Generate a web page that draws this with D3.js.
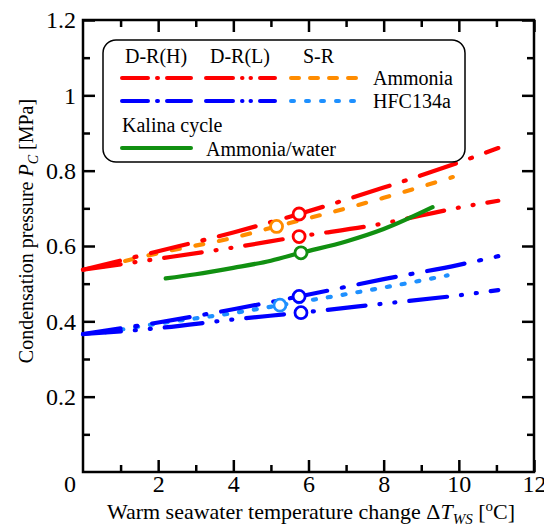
<!DOCTYPE html>
<meta charset="utf-8">
<html lang="en">
<head>
<script src="https://d3js.org/d3.v7.min.js"></script>
<style>
body { margin: 0; background: #fff; }
svg text { font-family: "Liberation Serif", "Times New Roman", serif; fill: #000; }
.frame { fill: none; stroke: #000; stroke-width: 2.5; }
.tick line { stroke: #000; stroke-width: 2.5; }
.tick text { font-size: 24px; }
.domain { display: none; }
</style>
</head>
<body>
<script>

// series data
var ammHX = [0, 2, 4, 5.75, 8, 10, 11.05];
var ammHY = [0.537, 0.586, 0.636, 0.685, 0.755, 0.822, 0.86];
var ammLX = [0, 2, 4, 5.75, 8, 9, 10, 11.05];
var ammLY = [0.537, 0.566, 0.596, 0.625, 0.66, 0.681, 0.702, 0.72];
var ammSX = [0.5, 2, 4, 5.15, 7, 8, 9.84];
var ammSY = [0.545, 0.581, 0.622, 0.652, 0.70, 0.728, 0.783];
var hfcHX = [0, 2, 4, 5.75, 8, 10, 11.05];
var hfcHY = [0.366, 0.397, 0.432, 0.466, 0.512, 0.55, 0.573];
var hfcLX = [0, 2, 4, 5.8, 8, 10, 11.05];
var hfcLY = [0.366, 0.382, 0.405, 0.423, 0.447, 0.469, 0.483];
var hfcSX = [0.6, 2, 4, 5.24, 7, 8.4, 9.7];
var hfcSY = [0.371, 0.394, 0.422, 0.443, 0.472, 0.497, 0.522];
var kalX = [2.2, 3, 4, 5, 5.8, 7, 8, 9.3];
var kalY = [0.514, 0.525, 0.542, 0.561, 0.582, 0.612, 0.645, 0.703];

// design points marked with circles
var markX = [5.75, 5.75, 5.15, 5.8, 5.75, 5.8, 5.24];
var markY = [0.685, 0.625, 0.652, 0.582, 0.466, 0.423, 0.443];
var markColor = ["#ff0000", "#ff0000", "#ff8c00", "#119011", "#0000ff", "#0000ff", "#1e90ff"];

// tick values
var xMajor = [2, 4, 6, 8, 10, 12];
var xMinor = [1, 3, 5, 7, 9, 11];
var yMajor = [0.2, 0.4, 0.6, 0.8, 1.0, 1.2];
var yMinor = [0.1, 0.3, 0.5, 0.7, 0.9, 1.1];

var series = [
  {x: ammSX, y: ammSY, color: "#ff8c00", dash: "8,16", legDash: "8,11"},
  {x: ammLX, y: ammLY, color: "#ff0000", dash: "38,14,1,14,1,14", legDash: "27,9,0.5,8,0.5,9"},
  {x: ammHX, y: ammHY, color: "#ff0000", dash: "38,15,2,15", legDash: "26,9,1,9"},
  {x: kalX, y: kalY, color: "#119011", dash: null, legDash: null},
  {x: hfcSX, y: hfcSY, color: "#1e90ff", dash: "3,12", legDash: "3,12"},
  {x: hfcLX, y: hfcLY, color: "#0000ff", dash: "38,14,1,14,1,14", legDash: "27,9,0.5,8,0.5,9"},
  {x: hfcHX, y: hfcHY, color: "#0000ff", dash: "38,15,2,15", legDash: "26,9,1,9"}
];

var width = 544, height = 527;
var pLeft = 83, pRight = 534, pTop = 20, pBottom = 472;

var svg = d3.select("body").append("svg")
    .attr("width", width)
    .attr("height", height);

var xScale = d3.scaleLinear().domain([0, 12]).range([pLeft, pRight]);
var yScale = d3.scaleLinear().domain([0, 1.2]).range([pBottom, pTop]);

var fmt = function(d) { return String(+d.toFixed(1)); };

// major ticks with labels, inward
svg.append("g")
    .attr("transform", "translate(0," + pBottom + ")")
    .call(d3.axisBottom(xScale).tickValues(xMajor).tickSize(-12).tickFormat(fmt))
    .call(function(g) { g.selectAll("text").attr("y", 3); });

svg.append("g")
    .attr("transform", "translate(" + pLeft + ",0)")
    .call(d3.axisLeft(yScale).tickValues(yMajor).tickSize(-12).tickFormat(fmt))
    .call(function(g) { g.selectAll("text").attr("x", -7); });

// mirrored ticks on top and right
svg.append("g")
    .attr("transform", "translate(0," + pTop + ")")
    .call(d3.axisTop(xScale).tickValues(xMajor).tickSize(-12).tickFormat(""));
svg.append("g")
    .attr("transform", "translate(" + pRight + ",0)")
    .call(d3.axisRight(yScale).tickValues(yMajor).tickSize(-12).tickFormat(""));

// minor ticks
svg.append("g")
    .attr("transform", "translate(0," + pBottom + ")")
    .call(d3.axisBottom(xScale).tickValues(xMinor).tickSize(-7).tickFormat(""));
svg.append("g")
    .attr("transform", "translate(0," + pTop + ")")
    .call(d3.axisTop(xScale).tickValues(xMinor).tickSize(-7).tickFormat(""));
svg.append("g")
    .attr("transform", "translate(" + pLeft + ",0)")
    .call(d3.axisLeft(yScale).tickValues(yMinor).tickSize(-7).tickFormat(""));
svg.append("g")
    .attr("transform", "translate(" + pRight + ",0)")
    .call(d3.axisRight(yScale).tickValues(yMinor).tickSize(-7).tickFormat(""));

// shared origin label
svg.append("text")
    .attr("x", 70)
    .attr("y", 492)
    .attr("text-anchor", "middle")
    .attr("font-size", 24)
    .text("0");

// frame
svg.append("rect")
    .attr("class", "frame")
    .attr("x", pLeft)
    .attr("y", pTop)
    .attr("width", pRight - pLeft)
    .attr("height", pBottom - pTop);

// lines
var line = d3.line()
    .x(function(d) { return xScale(d[0]); })
    .y(function(d) { return yScale(d[1]); })
    .curve(d3.curveMonotoneX);

series.forEach(function(s) {
  svg.append("path")
      .datum(d3.zip(s.x, s.y))
      .attr("d", line)
      .attr("fill", "none")
      .attr("stroke", s.color)
      .attr("stroke-width", 4.2)
      .attr("stroke-linecap", "round")
      .attr("stroke-dasharray", s.dash);
});

// circles at the design point
svg.selectAll(".mark")
    .data(d3.range(markX.length))
    .enter().append("circle")
    .attr("class", "mark")
    .attr("cx", function(i) { return xScale(markX[i]); })
    .attr("cy", function(i) { return yScale(markY[i]); })
    .attr("r", 6)
    .attr("fill", "#fff")
    .attr("stroke", function(i) { return markColor[i]; })
    .attr("stroke-width", 2.8);

// legend box
svg.append("rect")
    .attr("x", 103)
    .attr("y", 40)
    .attr("width", 362)
    .attr("height", 122)
    .attr("rx", 13)
    .attr("fill", "#fff")
    .attr("stroke", "#000")
    .attr("stroke-width", 1.5);

var leg = svg.append("g").attr("font-size", 20);
leg.append("text").attr("x", 125).attr("y", 63).text("D-R(H)");
leg.append("text").attr("x", 210).attr("y", 63).text("D-R(L)");
leg.append("text").attr("x", 303).attr("y", 63).text("S-R");
leg.append("text").attr("x", 373).attr("y", 85).text("Ammonia");
leg.append("text").attr("x", 373).attr("y", 108).text("HFC134a");
leg.append("text").attr("x", 122).attr("y", 132).text("Kalina cycle");
leg.append("text").attr("x", 206).attr("y", 156).text("Ammonia/water");

// legend samples: [series index, x start, y]
var legRows = [[2, 122, 78], [1, 206, 78], [0, 291, 78], [6, 122, 101], [5, 206, 101], [4, 291, 101], [3, 122, 148]];
legRows.forEach(function(r) {
  var s = series[r[0]];
  leg.append("line")
      .attr("x1", r[1]).attr("x2", r[1] + 69)
      .attr("y1", r[2]).attr("y2", r[2])
      .attr("stroke", s.color)
      .attr("stroke-width", 4)
      .attr("stroke-linecap", "round")
      .attr("stroke-dasharray", s.legDash);
});

// axis titles
var xt = svg.append("text")
    .attr("x", 311)
    .attr("y", 519)
    .attr("text-anchor", "middle")
    .attr("font-size", 22);
xt.append("tspan").text("Warm seawater temperature change \u0394");
xt.append("tspan").style("font-style", "italic").text("T");
xt.append("tspan").style("font-style", "italic").attr("font-size", 15).attr("dy", 5).text("WS");
xt.append("tspan").attr("dy", -5).text(" [");
xt.append("tspan").attr("font-size", 15).attr("dy", -8).text("o");
xt.append("tspan").attr("dy", 8).text("C]");

var yt = svg.append("text")
    .attr("transform", "translate(33,231) rotate(-90)")
    .attr("text-anchor", "middle")
    .attr("font-size", 20);
yt.append("tspan").text("Condensation pressure ");
yt.append("tspan").style("font-style", "italic").text("P");
yt.append("tspan").style("font-style", "italic").attr("font-size", 14).attr("dy", 5).text("C");
yt.append("tspan").attr("dy", -5).text(" [MPa]");

</script>
</body>
</html>
